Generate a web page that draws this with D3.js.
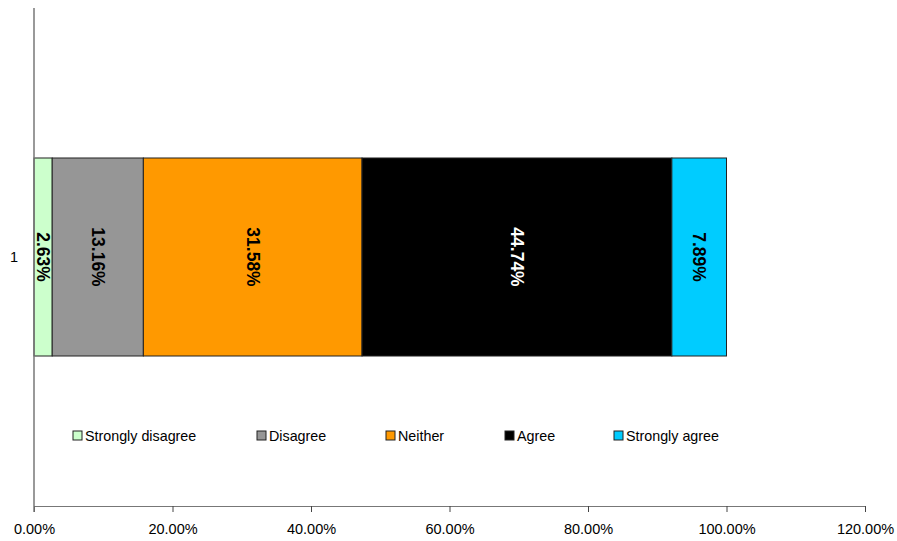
<!DOCTYPE html>
<html>
<head>
<meta charset="utf-8">
<script src="https://cdn.jsdelivr.net/npm/d3@7"></script>
<style>
  body { margin: 0; background: #fff; }
  text { font-family: "Liberation Sans", Arial, sans-serif; }
</style>
</head>
<body>
<svg id="chart" width="897" height="541"></svg>
<script>
// Response shares for the single survey item
const categories = ["Strongly disagree", "Disagree", "Neither", "Agree", "Strongly agree"];
const values = [2.63, 13.16, 31.58, 44.74, 7.89];
const colors = ["#CCFFCC", "#969696", "#FF9900", "#000000", "#00CCFF"];
const labelColors = ["#000", "#000", "#000", "#fff", "#000"];
const xTicks = [0, 20, 40, 60, 80, 100, 120];
const rowLabels = ["1"];

const svg = d3.select("#chart");
const plotLeft = 34, plotRight = 865, plotTop = 8, plotBottom = 506;

const x = d3.scaleLinear().domain([0, 120]).range([plotLeft, plotRight]);
const y = d3.scaleBand().domain(rowLabels).range([plotTop, plotBottom]).paddingInner(0).paddingOuter(0.7575);

// stacked segments
let cum = 0;
const segs = values.map((v, i) => { const s = { i, start: cum, end: cum + v, v }; cum += v; return s; });

const g = svg.append("g");
g.selectAll("rect.seg").data(segs).enter().append("rect")
  .attr("class", "seg")
  .attr("x", d => x(d.start))
  .attr("width", d => x(d.end) - x(d.start))
  .attr("y", y("1"))
  .attr("height", y.bandwidth())
  .attr("fill", d => colors[d.i])
  .attr("stroke", "#222")
  .attr("stroke-width", 1);

// rotated value labels
g.selectAll("text.val").data(segs).enter().append("text")
  .attr("class", "val")
  .attr("transform", d => `translate(${(x(d.start) + x(d.end)) / 2},${y("1") + y.bandwidth() / 2}) rotate(90)`)
  .attr("text-anchor", "middle")
  .attr("dy", "0.35em")
  .attr("font-size", 17.5)
  .attr("font-weight", "bold")
  .attr("fill", d => labelColors[d.i])
  .text(d => d.v.toFixed(2) + "%");

// x axis
const xAxis = d3.axisBottom(x).tickValues(xTicks).tickFormat(d => d3.format(".2f")(d) + "%").tickSize(6).tickSizeOuter(0);
const xa = svg.append("g").attr("transform", `translate(0,${plotBottom})`).call(xAxis);
xa.select(".domain").attr("stroke", "#777");
xa.selectAll(".tick line").attr("stroke", "#444");
xa.selectAll(".tick text").attr("font-size", 14.5).attr("fill", "#000").attr("y", 18);

// y axis
const ya = svg.append("g").attr("transform", `translate(${plotLeft},0)`)
  .call(d3.axisLeft(y).tickSize(0).tickPadding(16));
ya.select(".domain").remove();
ya.selectAll(".tick text").attr("font-size", 14.5).attr("fill", "#000");
svg.append("line").attr("x1", plotLeft).attr("x2", plotLeft).attr("y1", plotTop).attr("y2", plotBottom + 6)
  .attr("stroke", "#777").attr("stroke-width", 1.5);

// legend
const legendX = [73, 257, 386, 505, 614];
const lg = svg.append("g").selectAll("g").data(categories).enter().append("g")
  .attr("transform", (d, i) => `translate(${legendX[i]},431)`);
lg.append("rect").attr("width", 9).attr("height", 9)
  .attr("fill", (d, i) => colors[i]).attr("stroke", "#222").attr("stroke-width", 1);
lg.append("text").attr("x", 12).attr("y", 5).attr("dy", "0.35em")
  .attr("font-size", 14.3).attr("fill", "#000").text(d => d);
</script>
</body>
</html>
